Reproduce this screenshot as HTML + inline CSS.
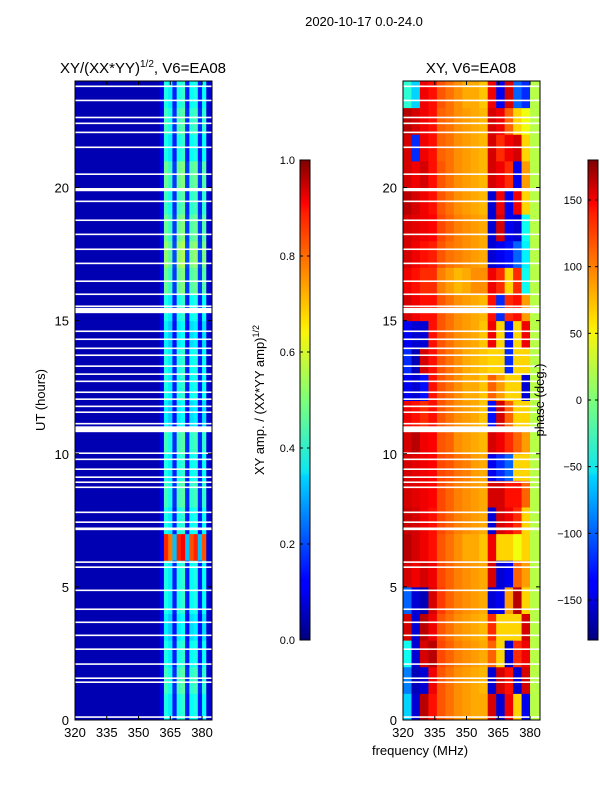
<!DOCTYPE html>
<html><head><meta charset="utf-8">
<style>
body{margin:0;background:#fff;font-family:"Liberation Sans","DejaVu Sans",sans-serif;}
svg{display:block}
text{font-family:"Liberation Sans","DejaVu Sans",sans-serif;fill:#000}
</style></head>
<body>
<svg id="fig" width="600" height="800" viewBox="0 0 600 800">
<rect width="600" height="800" fill="#fff"/>
<text x="364" y="26" font-size="13" text-anchor="middle">2020-10-17 0.0-24.0</text>
<text x="143" y="73" font-size="15" text-anchor="middle">XY/(XX*YY)<tspan font-size="10" dy="-6">1/2</tspan><tspan dy="6">, V6=EA08</tspan></text>
<text x="471" y="73" font-size="15" text-anchor="middle">XY, V6=EA08</text>
<g id="leftPlot"></g>
<g id="rightPlot"></g>
<g id="axes"></g>
<text transform="translate(45,400) rotate(-90)" font-size="13" text-anchor="middle">UT (hours)</text>
<text x="420" y="755" font-size="13" text-anchor="middle">frequency (MHz)</text>
<defs>
<linearGradient id="jet" x1="0" y1="1" x2="0" y2="0">
<stop offset="0" stop-color="#00007f"/><stop offset="0.11" stop-color="#0000ff"/><stop offset="0.125" stop-color="#0000ff"/>
<stop offset="0.34" stop-color="#00d4ff"/><stop offset="0.35" stop-color="#0de5f2"/><stop offset="0.5" stop-color="#7dff7a"/>
<stop offset="0.64" stop-color="#f9f50a"/><stop offset="0.66" stop-color="#ffe600"/><stop offset="0.89" stop-color="#ff1d00"/>
<stop offset="0.91" stop-color="#ff0000"/><stop offset="1" stop-color="#7f0000"/>
</linearGradient>
</defs>
<rect x="300" y="160" width="10" height="480" fill="url(#jet)" stroke="#000" stroke-width="1"/>
<rect x="588" y="160" width="10" height="480" fill="url(#jet)" stroke="#000" stroke-width="1"/>
<g id="cbar"></g>
<text transform="translate(264,400) rotate(-90)" font-size="13" text-anchor="middle">XY amp. / (XX*YY amp)<tspan font-size="9" dy="-5">1/2</tspan></text>
<text transform="translate(544,400) rotate(-90)" font-size="13" text-anchor="middle">phase (deg.)</text>
</svg>
<script>
// ---- data ----
const ampFreqProfile = [0.05,0.05,0.05,0.05,0.05,0.05,0.05,0.05,0.05,0.05,0.05,0.05,0.05,0.05,0.05,0.05,0.05,0.05,0.05,0.05,0.1,0.4,0.36,0.15,0.4,0.42,0.15,0.38,0.4,0.15,0.38,0.08];
const ampHourLevel = [1.0,1.1,1.0,0.9,1.0,1.0,2.1,1.0,1.1,1.0,1.1,0.9,1.0,1.0,0.9,1.0,1.2,1.3,1.2,1.1,1.2,1.0,1.1,1.0];
const phaseGrid = [
[-60,-150,160,130,105,95,85,80,75,75,150,-150,140,60,-140,20],
[-90,-160,-150,140,105,95,85,80,75,70,-150,150,130,-150,150,20],
[-40,-150,150,160,110,100,90,85,80,75,100,60,-150,120,140,20],
[150,-150,160,140,105,95,85,80,75,70,120,60,60,60,150,20],
[-100,-150,-160,150,115,100,90,85,80,75,-150,-140,80,160,60,20],
[150,140,150,140,110,100,90,85,80,75,150,-150,-140,100,80,20],
[160,150,140,130,105,95,85,75,75,65,140,60,60,40,60,20],
[155,150,140,130,110,100,90,85,80,75,-150,150,140,120,60,20],
[150,145,140,135,110,100,90,85,80,75,150,150,130,130,100,20],
[150,145,140,135,110,105,95,90,80,75,-140,-120,-100,60,60,20],
[150,160,140,135,105,100,85,80,75,70,150,140,120,100,80,20],
[140,130,120,130,105,95,85,80,75,65,-130,150,100,60,60,20],
[-140,-150,-130,130,105,95,85,75,75,65,100,80,60,60,-150,20],
[-120,-160,150,130,105,95,85,75,70,65,60,60,-120,60,60,20],
[-140,-150,-150,130,105,95,85,80,75,65,140,60,-130,60,140,20],
[150,140,130,130,105,95,85,80,75,70,130,-120,120,130,80,20],
[140,130,120,120,90,80,70,75,85,85,140,120,60,120,-40,20],
[150,140,130,125,105,95,90,85,80,75,-150,-140,-130,-100,-50,20],
[150,145,140,135,110,100,90,85,80,75,-150,150,-140,-150,-40,20],
[160,150,140,130,105,95,85,80,75,70,-150,140,-140,140,60,20],
[150,140,150,130,105,95,85,80,75,70,150,140,120,-140,80,20],
[150,-120,140,130,100,95,85,80,75,70,150,120,140,150,60,20],
[160,150,140,130,100,95,85,80,75,70,150,140,100,60,40,20],
[-30,-60,140,130,105,95,85,75,75,65,140,-140,150,-100,-120,20]
];
const gapHours = [0.08,1.39,1.54,2.07,2.63,3.15,3.64,4.13,4.84,5.71,5.9,7.13,7.4,7.77,8.71,8.9,9.09,9.39,9.76,9.99,10.81,11.1,11.53,11.75,12.02,12.28,12.69,12.96,13.26,13.67,13.93,14.27,14.57,15.28,15.51,15.96,16.45,17.12,17.65,18.21,18.74,19.45,19.86,20.47,21.48,22.04,22.38,22.6,23.24,23.77];
const gapDur = [0.06,0.06,0.06,0.06,0.06,0.06,0.06,0.06,0.06,0.06,0.06,0.1,0.06,0.06,0.06,0.06,0.06,0.06,0.06,0.06,0.22,0.06,0.06,0.06,0.06,0.06,0.06,0.06,0.06,0.06,0.06,0.06,0.06,0.2,0.06,0.06,0.06,0.06,0.06,0.06,0.06,0.06,0.12,0.06,0.06,0.06,0.06,0.06,0.06,0.06];
const hourTicks = [0,5,10,15,20];
const freqTicks = [320,335,350,365,380];
const ampTicks = [0.0,0.2,0.4,0.6,0.8,1.0];
const phaseTicks = [-150,-100,-50,0,50,100,150];

// ---- scales ----
const NS="http://www.w3.org/2000/svg";
const Y0=720, Y1=81, F0=320, F1=384.7;
const yS = h => Y0 - (h/24)*(Y0-Y1);
const xL = f => 75 + (f-F0)/(F1-F0)*137;
const xR = f => 403 + (f-F0)/(F1-F0)*137;
function jet(v){v=Math.max(0,Math.min(1,v));
 const r=Math.min(4*v-1.5,-4*v+4.5), g=Math.min(4*v-0.5,-4*v+3.5), b=Math.min(4*v+0.5,-4*v+2.5);
 const c=x=>Math.round(255*Math.max(0,Math.min(1,x)));return `rgb(${c(r)},${c(g)},${c(b)})`;}
function mk(tag,at,parent){const e=document.createElementNS(NS,tag);for(const k in at)e.setAttribute(k,at[k]);parent.appendChild(e);return e;}
const L=document.getElementById('leftPlot'), R=document.getElementById('rightPlot'), A=document.getElementById('axes'), C=document.getElementById('cbar');

const ampBin=(384-320)/ampFreqProfile.length;
ampHourLevel.forEach((lvl,i)=>{ampFreqProfile.forEach((p,j)=>{
 const v = p<0.12 ? p : Math.min(1,p*lvl);
 const f0=320+j*ampBin, f1=Math.min(F1,f0+ampBin);
 const r=mk('rect',{x:xL(f0),y:yS(i+1),width:xL(f1)-xL(f0)+0.5,height:yS(i)-yS(i+1)+0.5,fill:jet(v)},L);
 
 
});});
mk('rect',{x:xL(384),y:Y1,width:212-xL(384),height:Y0-Y1,fill:jet(0.08)},L);
const phBin=4;
phaseGrid.forEach((row,i)=>{row.forEach((ph,j)=>{
 const f0=320+j*phBin, f1=j===row.length-1?F1:f0+phBin;
 const r=mk('rect',{x:xR(f0),y:yS(i+1),width:xR(f1)-xR(f0)+0.5,height:yS(i)-yS(i+1)+0.5,fill:jet((ph+180)/360)},R);
 
 
});});
gapHours.forEach((h,k)=>{
 const y=yS(h+gapDur[k]), hh=Math.max(1.5,yS(h)-yS(h+gapDur[k]));
 [[75,137],[403,137]].forEach(([x,w])=>{
  const g=mk('rect',{x:x,y:y,width:w,height:hh,fill:'#fff'},A);
  
  
 });
});
[[75,xL],[403,xR]].forEach(([x0,xs],pi)=>{
 const fr=mk('rect',{x:x0,y:Y1,width:137,height:Y0-Y1,fill:'none',stroke:'#000','stroke-width':1},A);
 
 
 hourTicks.forEach(h=>{const y=yS(h);
  mk('line',{x1:x0,y1:y,x2:x0+4,y2:y,stroke:'#000'},A);
  mk('line',{x1:x0+137,y1:y,x2:x0+133,y2:y,stroke:'#000'},A);
  const t=mk('text',{x:x0-6,y:y+5,'font-size':13,'text-anchor':'end'},A);t.textContent=h;
  
  
 });
 freqTicks.forEach(f=>{const x=xs(f);
  mk('line',{x1:x,y1:Y0,x2:x,y2:Y0-4,stroke:'#000'},A);
  mk('line',{x1:x,y1:Y1,x2:x,y2:Y1+4,stroke:'#000'},A);
  const t=mk('text',{x:x,y:Y0+17,'font-size':13,'text-anchor':'middle'},A);t.textContent=f;
  
  
 });
});
ampTicks.forEach(v=>{const y=640-v*480;
 mk('line',{x1:300,y1:y,x2:303,y2:y,stroke:'#000'},C);mk('line',{x1:310,y1:y,x2:307,y2:y,stroke:'#000'},C);
 const t=mk('text',{x:295,y:y+4,'font-size':11,'text-anchor':'end'},C);t.textContent=v.toFixed(1);
 
 
});
phaseTicks.forEach(v=>{const y=640-(v+180)/360*480;
 mk('line',{x1:588,y1:y,x2:591,y2:y,stroke:'#000'},C);mk('line',{x1:598,y1:y,x2:595,y2:y,stroke:'#000'},C);
 const t=mk('text',{x:582,y:y+4,'font-size':11,'text-anchor':'end'},C);t.textContent=v<0?'\u2212'+(-v):String(v);
 
 
});
</script>
</body></html>
